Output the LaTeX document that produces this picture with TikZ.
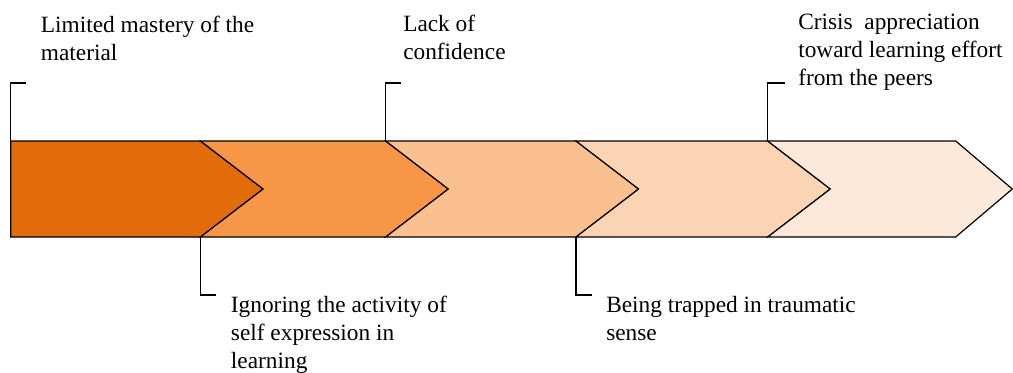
\documentclass[tikz,border=0pt]{standalone}
\usepackage{fontspec}
\setmainfont{LiberationSerif}[Extension=.ttf,UprightFont=*-Regular,BoldFont=*-Bold]
\definecolor{segA}{HTML}{E36C0A}
\definecolor{segB}{HTML}{F79646}
\definecolor{segC}{HTML}{FAC090}
\definecolor{segD}{HTML}{FBD4B4}
\definecolor{segE}{HTML}{FDE9D9}
\tikzset{
  segment/.style={draw=black,line width=0.9pt,line join=miter},
  callout/.style={draw=black,line width=0.9pt},
  phase/.style={anchor=north west,inner sep=0pt,align=left,
    font=\fontsize{17.5}{21}\selectfont}
}
\begin{document}
\begin{tikzpicture}[x=0.75pt,y=-0.75pt]
  \useasboundingbox (0,0) rectangle (1013,372);
  % corners of the bar
  \foreach \i/\x in {0/10.7,1/200.5,2/385.7,3/576,4/767.7,5/955.7}{
    \coordinate (t\i) at (\x,141);
    \coordinate (b\i) at (\x,237);
    \coordinate (m\i) at (\x+62.6,189);
  }
  \coordinate (tip) at (1012.3,189);
  % chevrons
  \draw[segment,fill=segA] (t0) -- (t1) -- (m1) -- (b1) -- (b0) -- cycle;
  \draw[segment,fill=segB] (t1) -- (t2) -- (m2) -- (b2) -- (b1) -- (m1) -- cycle;
  \draw[segment,fill=segC] (t2) -- (t3) -- (m3) -- (b3) -- (b2) -- (m2) -- cycle;
  \draw[segment,fill=segD] (t3) -- (t4) -- (m4) -- (b4) -- (b3) -- (m3) -- cycle;
  \draw[segment,fill=segE] (t4) -- (t5) -- (tip) -- (b5) -- (b4) -- (m4) -- cycle;
  % labels
  \node[phase] (mastery) at (40.7,15.4) {Limited mastery of the\\material};
  \node[phase] (confidence) at (403,14.8) {Lack of\\confidence};
  \node[phase] (appreciation) at (798,13.8)
    {Crisis\ \ appreciation\\toward learning effort\\from the peers};
  \node[phase] (expression) at (230.7,295.6)
    {Ignoring the activity of\\self expression in\\learning};
  \node[phase] (trauma) at (606,295.6) {Being trapped in traumatic\\sense};
  % elbows of the callouts
  \coordinate (e0) at (25.5,83);
  \coordinate (e2) at (400.5,83);
  \coordinate (e4) at (784.5,83);
  \coordinate (e1) at (216,295);
  \coordinate (e3) at (591.7,295);
  \begin{scope}[callout]
    \draw (t0) |- (e0);
    \draw (t2) |- (e2);
    \draw (t4) |- (e4);
    \draw (b1) |- (e1);
    \draw (b3) |- (e3);
  \end{scope}
\end{tikzpicture}
\end{document}
